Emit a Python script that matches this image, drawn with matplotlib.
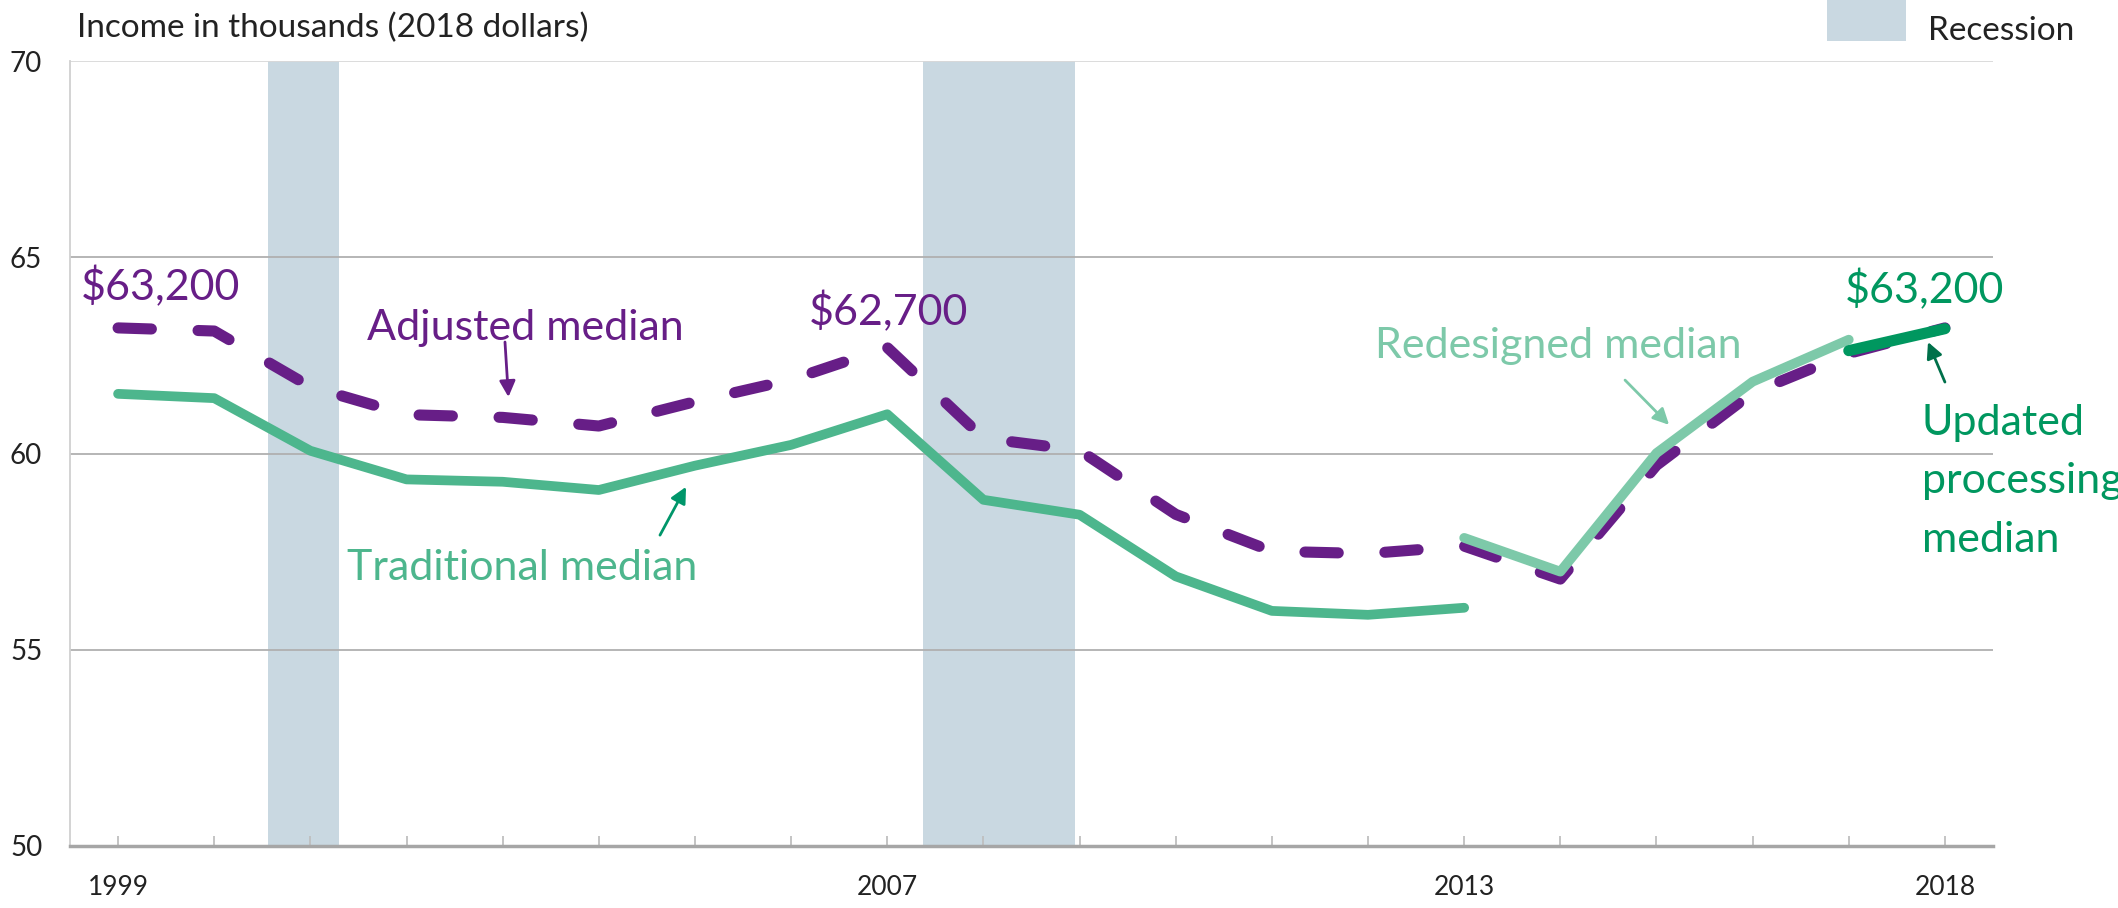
import numpy as np
import matplotlib
matplotlib.use("Agg")
import matplotlib.pyplot as plt
from matplotlib.patches import Rectangle

plt.rcParams['font.family'] = ['Lato', 'DejaVu Sans']

# ---------------- data ----------------
years = list(range(1999, 2019))
trad_years = list(range(1999, 2014))
traditional = [61.52, 61.41, 60.07, 59.34, 59.28, 59.07, 59.69, 60.22, 61.00,
               58.82, 58.44, 56.87, 55.99, 55.89, 56.07]
adjusted = [63.20, 63.12, 61.70, 60.99, 60.92, 60.70, 61.32, 61.88, 62.70,
            60.39, 60.08, 58.45, 57.51, 57.45, 57.64, 56.80, 59.70, 61.55,
            62.55, 63.20]
redesigned_years = [2013, 2014, 2015, 2016, 2017]
redesigned = [57.85, 56.99, 60.01, 61.83, 62.90]
updated_years = [2017, 2018]
updated = [62.62, 63.18]

recessions = [(2000.56, 2001.30), (2007.37, 2008.95)]
yticks = [50, 55, 60, 65, 70]
xtick_labels = {1999: "1999", 2007: "2007", 2013: "2013", 2018: "2018"}

# colours
PURPLE = "#671E87"
TRAD = "#4DB68D"
REDES = "#7DC9A9"
UPD = "#00975F"
BAND = "#C9D8E1"

W, H = 2118, 908
fig = plt.figure(figsize=(W / 100, H / 100), dpi=100)
ax = fig.add_axes([70 / W, 1 - 846 / H, (1993 - 70) / W, (846 - 61) / H])

ax.set_xlim(1998.5, 2018.5)
ax.set_ylim(50, 70)

for a, b in recessions:
    ax.axvspan(a, b, ymin=0, ymax=1, color=BAND, lw=0, zorder=0.2)

ax.set_axisbelow(True)
ax.yaxis.grid(True, color="#B0B0B0", lw=1.3, zorder=0.5)
ax.set_yticks(yticks)
ax.get_ygridlines()[-1].set_color("#D9D9D9")
ax.tick_params(axis='y', length=0, pad=20, labelsize=20, labelcolor="#222222")

ax.set_xticks(years)
ax.set_xticklabels([xtick_labels.get(y, "") for y in years])
ax.tick_params(axis='x', direction='in', length=7, width=1.3, color="#BFBFBF",
               pad=21, labelsize=19, labelcolor="#222222")

for s in ['top', 'right']:
    ax.spines[s].set_visible(False)
ax.spines['left'].set_color("#D0D0D0")
ax.spines['left'].set_linewidth(1.3)
ax.spines['bottom'].set_color("#A6A6A6")
ax.spines['bottom'].set_linewidth(2.5)

# lines
ax.plot(trad_years, traditional, color=TRAD, lw=7, solid_capstyle='round',
        solid_joinstyle='round', zorder=3)
ax.plot(years, adjusted, color=PURPLE, lw=8, dashes=(3.0, 4.2),
        dash_capstyle='round', dash_joinstyle='round', zorder=3)
ax.plot(redesigned_years, redesigned, color=REDES, lw=7, solid_capstyle='round',
        solid_joinstyle='round', zorder=4)
ax.plot(updated_years, updated, color=UPD, lw=8, solid_capstyle='round',
        solid_joinstyle='round', zorder=5)

# annotations: (text, x, y, colour)
labels = [
    ("$63,200", 1998.614, 63.893, PURPLE),
    ("Adjusted median", 2001.589, 62.892, PURPLE),
    ("$62,700", 2006.186, 63.274, PURPLE),
    ("Traditional median", 2001.381, 56.777, TRAD),
    ("Redesigned median", 2012.072, 62.433, REDES),
    ("$63,200", 2016.961, 63.834, UPD),
    ("Updated", 2017.761, 60.471, UPD),
    ("processing", 2017.761, 58.994, UPD),
    ("median", 2017.761, 57.490, UPD),
]
for t, x, y, c in labels:
    ax.text(x, y, t, color=c, fontsize=31, ha='left', va='baseline',
            zorder=6, clip_on=False)

# arrows: (tail, head, colour)
arrows = [
    ((2003.024, 62.84), (2003.060, 61.44), PURPLE),
    ((2004.636, 57.92), (2004.907, 59.15), "#00966A"),
    ((2014.673, 61.87), (2015.131, 60.73), REDES),
    ((2018.000, 61.82), (2017.824, 62.84), "#00704A"),
]
for tail, head, c in arrows:
    ax.annotate("", xy=head, xytext=tail,
                arrowprops=dict(arrowstyle='-|>', color=c, lw=2,
                                mutation_scale=24, shrinkA=0, shrinkB=0),
                zorder=6, annotation_clip=False)

# title
fig.text(77 / W, 1 - 37 / H, "Income in thousands (2018 dollars)", fontsize=24,
         color="#222222", ha='left', va='baseline')

# legend
fig.patches.append(Rectangle((1827 / W, 1 - 41 / H), 79 / W, 41 / H,
                             transform=fig.transFigure, color=BAND, lw=0))
fig.text(1928 / W, 1 - 40 / H, "Recession", fontsize=24, color="#222222",
         ha='left', va='baseline')

fig.savefig("out.png", dpi=100)
